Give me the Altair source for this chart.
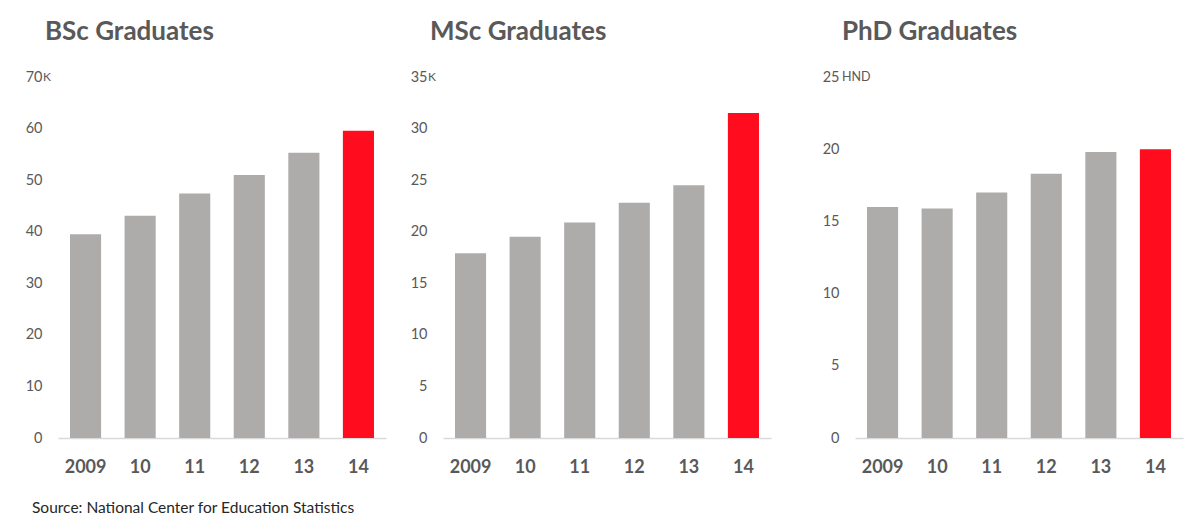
import altair as alt
import pandas as pd

# ---- data ----
years = ["2009", "10", "11", "12", "13", "14"]
bsc_values = [39.5, 43.1, 47.4, 51.0, 55.3, 59.6]   # thousands
msc_values = [17.9, 19.5, 20.9, 22.8, 24.5, 31.5]   # thousands
phd_values = [16.0, 15.9, 17.0, 18.3, 19.8, 20.0]   # hundreds
highlight = ["base", "base", "base", "base", "base", "latest"]

titles = ["BSc Graduates", "MSc Graduates", "PhD Graduates"]
y_max = [70, 35, 25]
y_step = [10, 5, 5]
units = ["K", "K", "HND"]
source_note = ["Source: National Center for Education Statistics"]

FONT = "Lato"
GRAY = "#AEABAB"
RED = "#FF0D1E"
TEXT = "#595959"
W, H = 328, 361


def panel(values, title, ymax, step, unit, with_source=False):
    df = pd.DataFrame({"year": years, "value": values, "group": highlight})
    bars = alt.Chart(df).mark_bar().encode(
        x=alt.X(
            "year:N", sort=years, title=None,
            scale=alt.Scale(paddingInner=0.43, paddingOuter=0.22),
            axis=alt.Axis(labelAngle=0, labelFont=FONT, labelFontSize=18,
                          labelFontWeight="bold", labelColor=TEXT,
                          domainColor="#D9D9D9", domainWidth=1.5,
                          ticks=False, tickSize=0, labelPadding=29,
                          labelBaseline="middle", grid=False),
        ),
        y=alt.Y(
            "value:Q", title=None,
            scale=alt.Scale(domain=[0, ymax], nice=False, zero=True),
            axis=alt.Axis(values=list(range(0, ymax + 1, step)), domain=False,
                          ticks=False, tickSize=0, grid=False, labelFont=FONT,
                          labelFontSize=14.5, labelColor=TEXT, labelPadding=16),
        ),
        color=alt.Color("group:N",
                        scale=alt.Scale(domain=["base", "latest"], range=[GRAY, RED]),
                        legend=None),
    )
    unit_df = pd.DataFrame({"value": [ymax], "unit": [unit]})
    unit_text = alt.Chart(unit_df).mark_text(
        align="left", baseline="middle", font=FONT,
        fontSize=12 if unit == "K" else 12.5, color=TEXT,
    ).encode(x=alt.value(-15 if unit == "K" else -13), y=alt.Y("value:Q"), text="unit:N")
    layers = [bars, unit_text]
    if with_source:
        src_df = pd.DataFrame({"note": source_note})
        src = alt.Chart(src_df).mark_text(
            align="left", baseline="middle", font=FONT, fontSize=15.5, color="#262626"
        ).encode(x=alt.value(-26), y=alt.value(431), text="note:N")
        layers.append(src)
    return alt.layer(*layers).properties(
        width=W, height=H,
        title=alt.Title(title, anchor="start", frame="group", dx=-13, font=FONT,
                        fontSize=26, fontWeight="bold", color=TEXT, offset=3,
                        baseline="alphabetic"),
    )


p1 = panel(bsc_values, titles[0], y_max[0], y_step[0], units[0], with_source=True)
p2 = panel(msc_values, titles[1], y_max[1], y_step[1], units[1])
p3 = panel(phd_values, titles[2], y_max[2], y_step[2], units[2])

# spacers between panels (the first also fixes the overall canvas bounds)
frame_df = pd.DataFrame({"t": [0]})
spacer1 = alt.Chart(frame_df).mark_rect(opacity=0).encode(
    x=alt.value(-386), x2=alt.value(802), y=alt.value(-77), y2=alt.value(447)
).properties(width=57, height=H)
spacer2 = alt.Chart(frame_df).mark_rect(opacity=0).encode(
    x=alt.value(0), x2=alt.value(1), y=alt.value(0), y2=alt.value(1)
).properties(width=84, height=H)

chart = alt.HConcatChart(
    hconcat=[p1, spacer1, p2, spacer2, p3], spacing=0, bounds="flush"
).properties(padding=0, background="white").configure_view(stroke=None)

chart.save("out.html", embed_options={"renderer": "svg", "actions": False})
